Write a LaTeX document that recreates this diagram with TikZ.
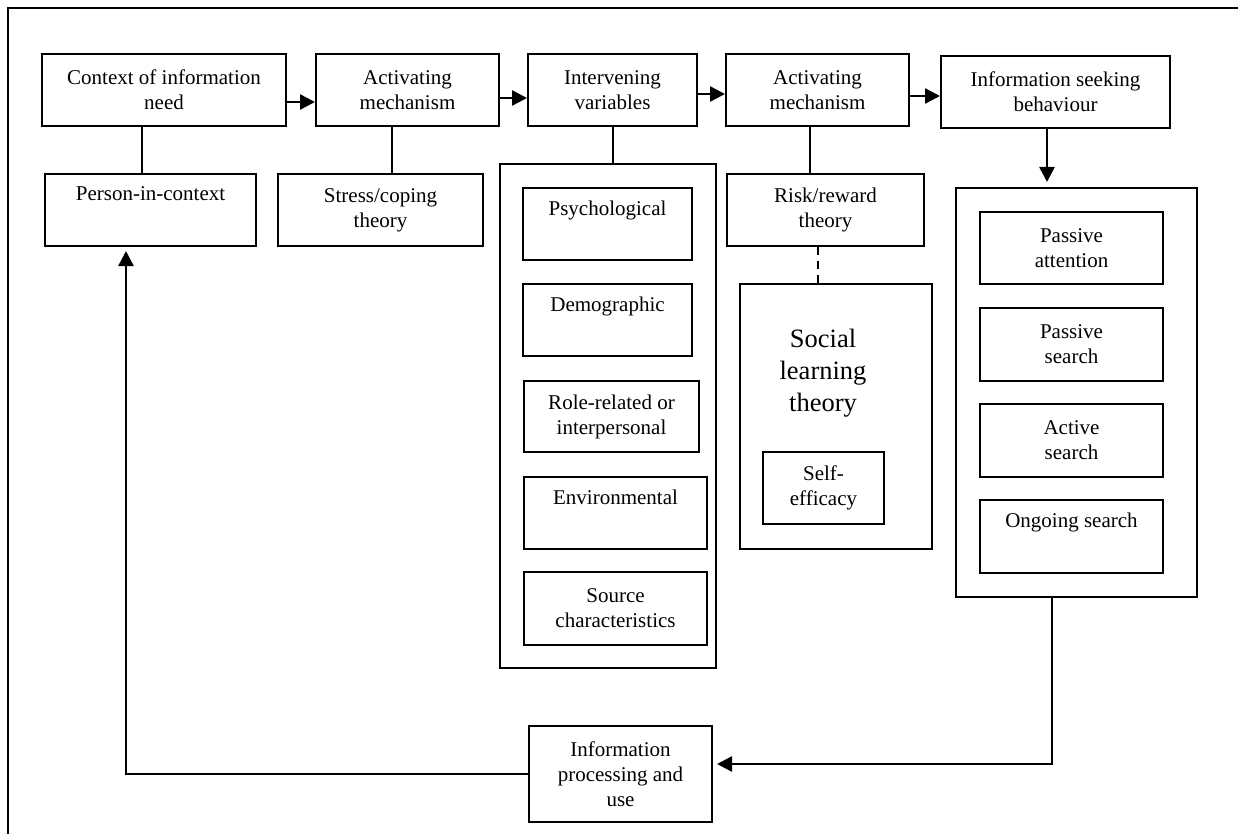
\documentclass[tikz,border=0pt]{standalone}
\usepackage{fontspec}
\setmainfont{Liberation Serif}
\usetikzlibrary{arrows.meta}

\begin{document}
\begin{tikzpicture}[x=1pt, y=-1pt, line width=2pt,
  font=\fontsize{21}{25}\selectfont,
  box/.style={draw, line width=2pt, inner sep=0pt, align=center, minimum height=72pt},
  frame/.style={draw, line width=2pt, inner sep=0pt},
  arr/.style={-{Triangle[length=15pt,width=15pt]}, line width=2.5pt},
]
\useasboundingbox (0,0) rectangle (1238,834);
% 外枠
\draw (1238,8) -- (8,8) -- (8,834);

% 上段ノード(座標配置)
\node[box, minimum width=244pt] (context) at (164,90)    {Context of information\\need};
\node[box, minimum width=183pt] (act1)    at (407.5,90)  {Activating\\mechanism};
\node[box, minimum width=169pt] (interv)  at (612.5,90)  {Intervening\\variables};
\node[box, minimum width=183pt] (act2)    at (817.5,90)  {Activating\\mechanism};
\node[box, minimum width=229pt] (seek)    at (1055.5,92) {Information seeking\\behaviour};

% 2段目
\node[box, minimum width=211pt] (person) at (150.5,210) {Person-in-context\\ \strut};
\node[box, minimum width=205pt] (stress) at (380.5,210) {Stress/coping\\theory};
\node[box, minimum width=197pt] (risk)   at (825.5,210) {Risk/reward\\theory};

% 介在変数
\node[frame, minimum width=216pt, minimum height=504pt] (vars) at (608,416) {};
\node[box, minimum width=169pt] (psych)  at (607.5,224) {Psychological\\ \strut};
\node[box, minimum width=169pt] (demo)   at (607.5,320) {Demographic\\ \strut};
\node[box, minimum width=175pt, minimum height=71pt] (role) at (611.5,416.5) {Role-related or\\interpersonal};
\node[box, minimum width=183pt] (env)    at (615.5,513) {Environmental\\ \strut};
\node[box, minimum width=183pt, minimum height=73pt] (source) at (615.5,608.5) {Source\\characteristics};

% 社会的学習理論
\node[frame, minimum width=192pt, minimum height=265pt] (social) at (836,416.5) {};
\node[align=center, inner sep=0pt, font=\fontsize{26.5}{32}\selectfont] (socialtxt) at (823,373) {Social\\learning\\theory};
\node[box, minimum width=121pt] (self) at (823.5,488) {Self-\\efficacy};

% 情報探索行動
\node[frame, minimum width=241pt, minimum height=409pt] (seekbox) at (1076.5,392.5) {};
\node[box, minimum width=183pt] (patt)    at (1071.5,248)   {Passive\\attention};
\node[box, minimum width=183pt, minimum height=73pt] (psearch) at (1071.5,344.5) {Passive\\search};
\node[box, minimum width=183pt, minimum height=73pt] (asearch) at (1071.5,440.5) {Active\\search};
\node[box, minimum width=183pt, minimum height=73pt] (ongoing) at (1071.5,536.5) {Ongoing search\\ \strut};

% 情報処理
\node[box, minimum width=183pt, minimum height=96pt] (infoproc) at (620.5,774) {Information\\processing and\\use};

% 矢印
\draw[arr] ([yshift=-12pt]context.east) -- ([yshift=-12pt]act1.west);
\draw[arr] ([yshift=-8pt]act1.east) -- ([yshift=-8pt]interv.west);
\draw[arr] ([yshift=-4pt]interv.east) -- ([yshift=-4pt]act2.west);
\draw[arr] ([yshift=-6pt]act2.east) -- ([yshift=-4pt]seek.west);
\draw[arr, shorten >=5pt] ([xshift=-8.5pt]seek.south) -- ([xshift=-29.5pt]seekbox.north);
\draw[arr, shorten >=4pt] ([xshift=-24.5pt]seekbox.south) |- ([yshift=10pt]infoproc.east);
\draw[arr, shorten >=4pt] (infoproc.west) -| ([xshift=-24.5pt]person.south);

% 線
\draw ([xshift=-22pt]context.south) -- ([xshift=-8.5pt]person.north);
\draw ([xshift=-15.5pt]act1.south) -- ([xshift=11.5pt]stress.north);
\draw ([xshift=0.5pt]interv.south) -- ([xshift=5pt]vars.north);
\draw ([xshift=-7.5pt]act2.south) -- ([xshift=-15.5pt]risk.north);
\draw[dash pattern=on 8pt off 6pt] ([xshift=-7.5pt]risk.south) -- ([xshift=-18pt]social.north);
\end{tikzpicture}
\end{document}
